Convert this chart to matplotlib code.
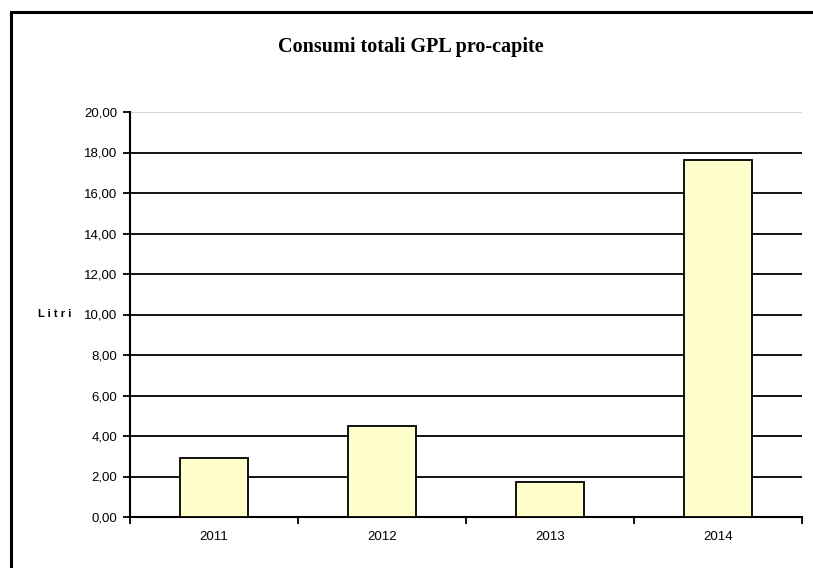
import matplotlib.pyplot as plt
import matplotlib.patches as patches
import numpy as np

# dati
anni = ['2011', '2012', '2013', '2014']
litri = [2.90, 4.48, 1.72, 17.62]
yticks = np.arange(0, 21, 2)

W, H = 813, 568
fig = plt.figure(figsize=(W / 100, H / 100), dpi=100)

# cornice esterna
fig.patches.append(patches.Rectangle((11 / W, -0.1), 1.2, 1 - 12 / H + 0.1,
                                     transform=fig.transFigure, fill=False,
                                     edgecolor='black', linewidth=2.2))

ax = fig.add_axes([130 / W, 1 - 517 / H, 672 / W, 405 / H])
x = np.arange(len(anni))
ax.bar(x, litri, width=0.41, color='#ffffcc', edgecolor='black', linewidth=1.3, zorder=3)

ax.set_xlim(-0.5, len(anni) - 0.5)
ax.set_ylim(0, 20)
ax.set_yticks(yticks)
ax.set_yticklabels(['%d,00' % v for v in yticks], family='Liberation Sans', fontsize=9.5)
for v in yticks[1:]:
    c = '#d0d0d0' if v == 20 else 'black'
    ax.axhline(v, color=c, linewidth=1.3, zorder=1)

ax.set_xticks(x)
ax.set_xticklabels(anni, family='Liberation Sans', fontsize=9.5)
ax.tick_params(axis='x', length=0, pad=10)
ax.set_xticks(np.arange(-0.5, len(anni)), minor=True)
ax.tick_params(axis='x', which='minor', length=5, width=1.3, direction='out')
ax.tick_params(axis='y', length=5, width=1.3, direction='out', pad=4)

for s in ['top', 'right']:
    ax.spines[s].set_visible(False)
ax.spines['left'].set_linewidth(1.5)
ax.spines['bottom'].set_linewidth(1.5)

fig.text(411 / W, 1 - 47 / H, 'Consumi totali GPL pro-capite', ha='center', va='center',
         family='Liberation Serif', fontweight='bold', fontsize=14.5)
fig.text(55 / W, 1 - 314 / H, 'L i t r i', ha='center', va='center',
         family='Liberation Sans', fontweight='bold', fontsize=8)

fig.savefig('out.png', dpi=100)
